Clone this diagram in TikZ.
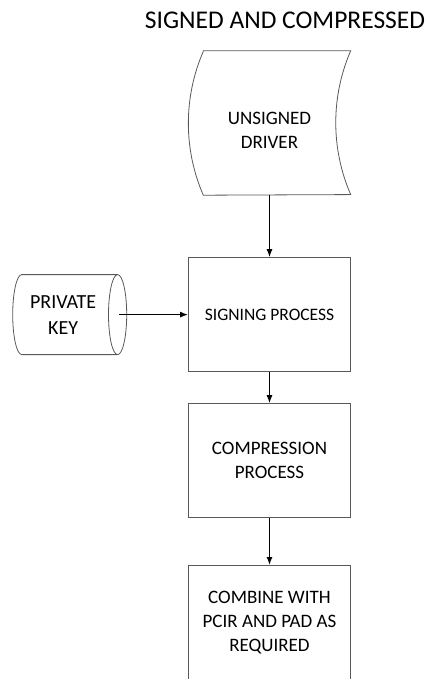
\documentclass[tikz,border=0pt]{standalone}
\usepackage{fontspec}
\setmainfont{Carlito}
\usetikzlibrary{positioning,shapes.geometric,arrows.meta}

\begin{document}
\begin{tikzpicture}[x=1pt, y=1pt, node distance=32pt, >={Latex[length=8pt,width=6pt]}]
        \tikzstyle{procbox}=[draw=black!65, line width=0.8pt, rectangle, minimum width=162pt, minimum height=114pt, align=center, font=\fontsize{19}{24}\selectfont];
        \tikzstyle{datastore}=[minimum width=162pt, minimum height=130pt, align=center, font=\fontsize{19}{24}\selectfont];
        \tikzstyle{keydisk}=[draw=black!65, line width=0.8pt, cylinder, shape aspect=0.4, minimum height=114pt, minimum width=80pt, align=center, font=\fontsize{20}{26}\selectfont];
        \tikzstyle{flow}=[->, line width=1.3pt];
        \useasboundingbox (0,0) rectangle (431,-679);

        \node[font=\fontsize{25.5}{30}\selectfont] (title) at (285,-20) {SIGNED AND COMPRESSED};

        \node[datastore] (driver) at (269.5,-130) {UNSIGNED\\DRIVER};
        \node[procbox, below=62pt of driver, font=\fontsize{17.5}{24}\selectfont] (signing) {SIGNING PROCESS};
        \node[procbox, below of=signing, node distance=146pt] (compress) {COMPRESSION\\PROCESS};
        \node[procbox, below=47pt of compress, minimum height=115pt] (combine) {COMBINE WITH\\PCIR AND PAD AS\\REQUIRED};
        \node[keydisk, left=61pt of signing] (key) {PRIVATE\\KEY};

        % outline of the stored data symbol
        \draw[black!65, line width=0.8pt] ([xshift=15pt, yshift=14pt]driver.north west) -- ([yshift=14pt]driver.north east)
            arc[start angle=156.5, end angle=203.5, radius=180.3pt]
            -- ([xshift=15pt]driver.south west)
            arc[start angle=203.5, end angle=156.5, radius=180.3pt] -- cycle;

        \draw[flow] (driver) -- (signing);
        \draw[flow] ([xshift=-8pt]key.east) -- (signing);
        \draw[flow] (signing) -- (compress);
        \draw[flow] (compress) -- (combine);
    \end{tikzpicture}
\end{document}
